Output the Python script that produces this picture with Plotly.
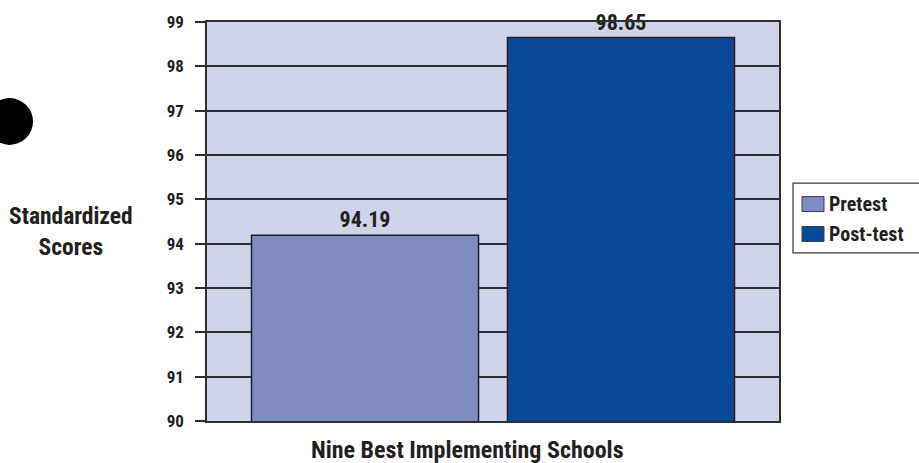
import plotly.graph_objects as go

group = ["Nine Best Implementing Schools"]
series_names = ["Pretest", "Post-test"]
series_values = [94.19, 98.65]
series_colors = ["#7f8bc1", "#084896"]
y_ticks = [90, 91, 92, 93, 94, 95, 96, 97, 98, 99]

FONT = "Roboto Condensed, Open Sans Condensed, sans-serif"
TXT = "#231f20"
LINE = "#2f2f33"

W, H = 919, 463
L, R, T, B = 207, 140, 20, 42
pw, ph = W - L - R, H - T - B

def px(x):
    return (x - L) / pw

def py(y):
    return (H - B - y) / ph

def f(size):
    return dict(family=FONT, size=size, color=TXT, weight="bold")

fig = go.Figure()
for name, val, col in zip(series_names, series_values, series_colors):
    fig.add_trace(go.Bar(
        x=group, y=[val], name=name,
        marker=dict(color=col, line=dict(color="#1c1f33", width=1.5)),
        text=[f"{val:.2f}"], textposition="outside",
        textfont=f(22),
        cliponaxis=False, showlegend=False,
    ))

shapes = [
    dict(type="circle", xref="paper", yref="paper",
         x0=px(-14), x1=px(33), y0=py(143.5), y1=py(96.5),
         fillcolor="black", line=dict(color="black", width=0)),
    dict(type="rect", xref="paper", yref="paper",
         x0=px(793), x1=px(930), y0=py(252), y1=py(182),
         fillcolor="rgba(0,0,0,0)", line=dict(color="#3a3a3a", width=1.2)),
]
annotations = [
    dict(text="Standardized<br>Scores", xref="paper", yref="paper",
         x=px(71), y=py(231), xanchor="center", yanchor="middle",
         showarrow=False, font=f(23.5)),
    dict(text="Nine Best Implementing Schools", xref="paper", yref="paper",
         x=px(467), y=py(450), xanchor="center", yanchor="middle",
         showarrow=False, font=f(24)),
]
# manual legend built from the series
legend_rows = [203, 233]
for name, col, yc in zip(series_names, series_colors, legend_rows):
    shapes.append(dict(type="rect", xref="paper", yref="paper",
                       x0=px(802), x1=px(824), y0=py(yc + 7.5), y1=py(yc - 7.5),
                       fillcolor=col, line=dict(color="#3a3a44", width=1)))
    annotations.append(dict(text=name, xref="paper", yref="paper",
                            x=px(827), y=py(yc), xanchor="left", yanchor="middle",
                            showarrow=False, font=f(20)))

fig.update_layout(
    width=W, height=H,
    margin=dict(l=L, r=R, t=T, b=B),
    paper_bgcolor="white",
    plot_bgcolor="#d0d4e8",
    barmode="group",
    bargap=0.105,
    bargroupgap=0.113,
    font=dict(family=FONT, color=TXT),
    showlegend=False,
    xaxis=dict(
        showticklabels=False, ticks="", showgrid=False,
        showline=True, linecolor=LINE, linewidth=1.5, mirror=True,
    ),
    yaxis=dict(
        range=[90, 99], tickvals=y_ticks,
        ticks="outside", ticklen=10, tickcolor=LINE, tickwidth=1.5,
        ticklabelstandoff=8,
        showgrid=True, gridcolor=LINE, gridwidth=1.5,
        showline=True, linecolor=LINE, linewidth=1.5, mirror=True,
        tickfont=f(17),
        zeroline=False,
    ),
    shapes=shapes,
    annotations=annotations,
)

fig.write_html("out.html", config={"displayModeBar": False},
               post_script="document.body.style.margin='0';")
